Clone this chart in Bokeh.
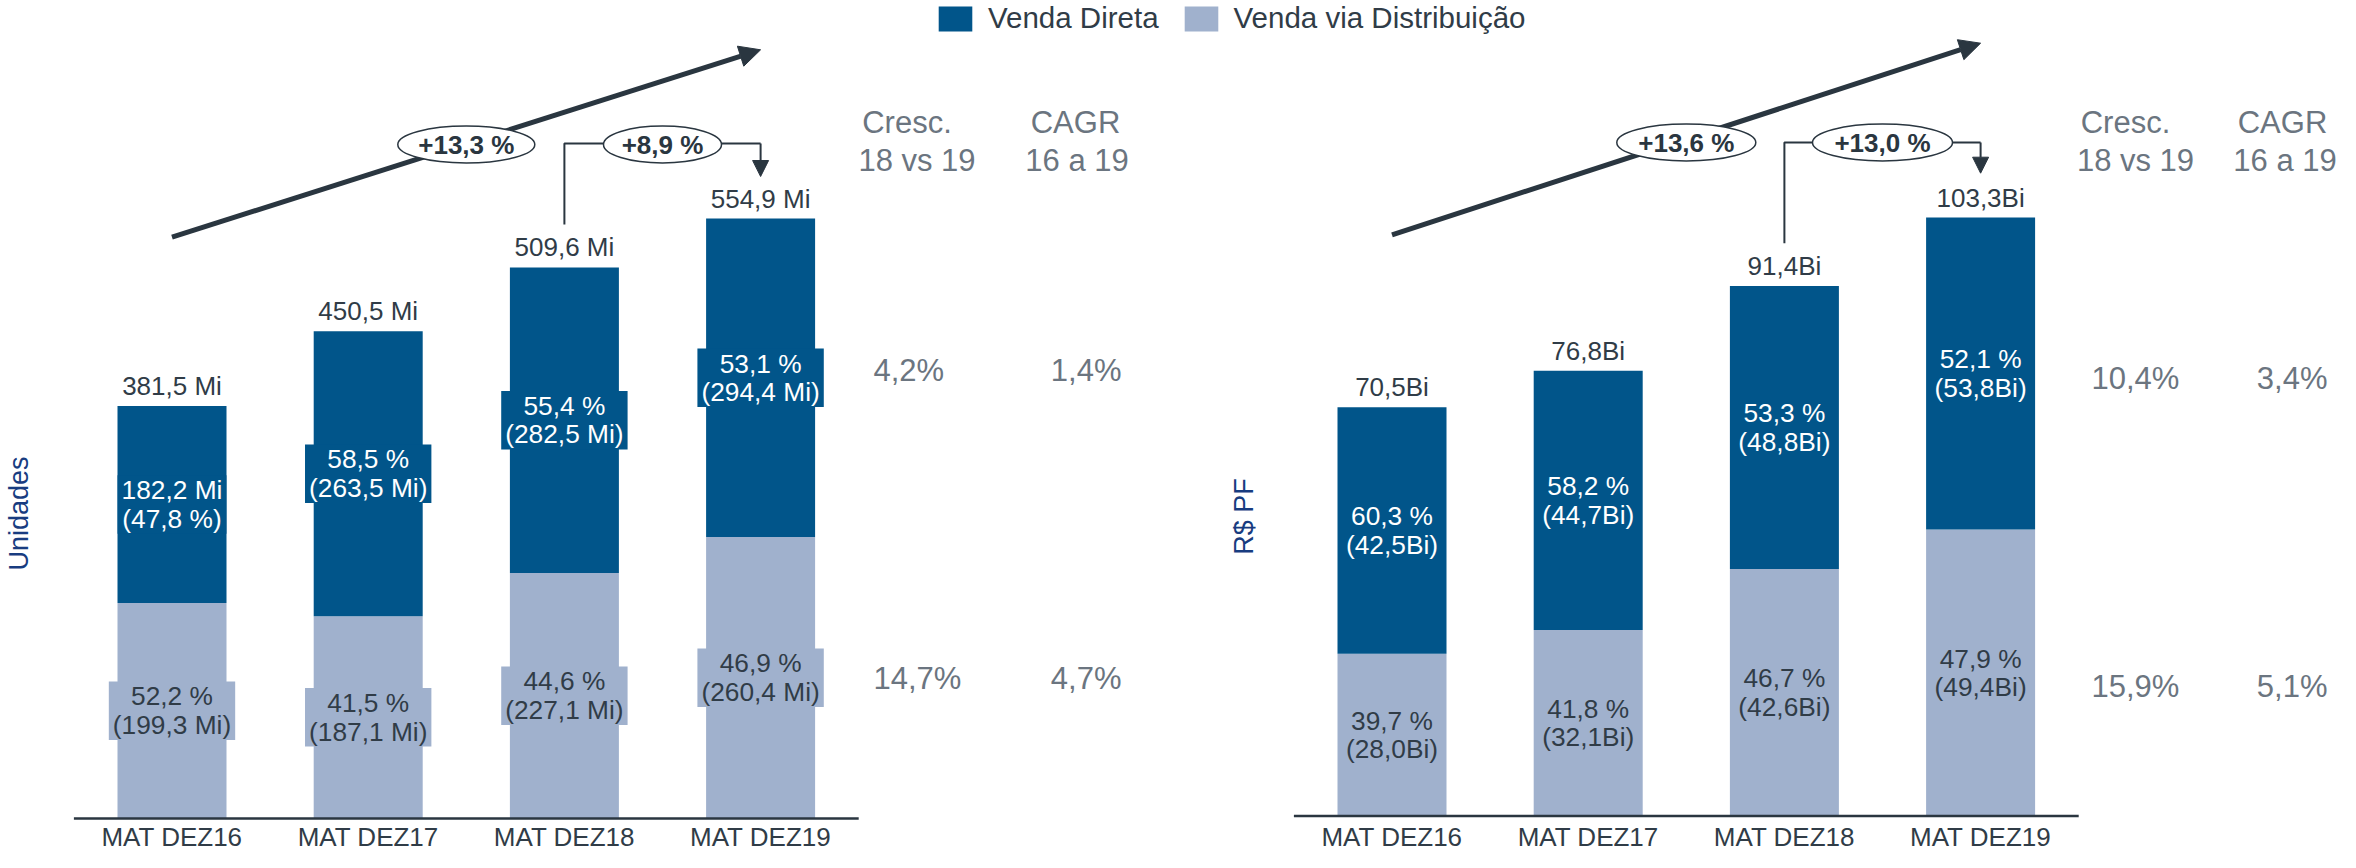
import math
from bokeh.plotting import figure
from bokeh.models import ColumnDataSource, Range1d, Arrow, NormalHead, Legend, LegendItem
from bokeh.core.properties import value
from bokeh.embed import file_html
from bokeh.resources import INLINE

# ---------------- data ----------------
categories = ["MAT DEZ16", "MAT DEZ17", "MAT DEZ18", "MAT DEZ19"]

units_direct = [182.2, 263.5, 282.5, 294.4]
units_dist = [199.3, 187.1, 227.1, 260.4]
units_total_lbl = ["381,5 Mi", "450,5 Mi", "509,6 Mi", "554,9 Mi"]
units_direct_lbl = ["182,2 Mi\n(47,8 %)", "58,5 %\n(263,5 Mi)", "55,4 %\n(282,5 Mi)", "53,1 %\n(294,4 Mi)"]
units_dist_lbl = ["52,2 %\n(199,3 Mi)", "41,5 %\n(187,1 Mi)", "44,6 %\n(227,1 Mi)", "46,9 %\n(260,4 Mi)"]
units_growth = ["+13,3 %", "+8,9 %"]
units_cresc = ["4,2%", "14,7%"]
units_cagr = ["1,4%", "4,7%"]

value_direct = [42.5, 44.7, 48.8, 53.8]
value_dist = [28.0, 32.1, 42.6, 49.4]
value_total_lbl = ["70,5Bi", "76,8Bi", "91,4Bi", "103,3Bi"]
value_direct_lbl = ["60,3 %\n(42,5Bi)", "58,2 %\n(44,7Bi)", "53,3 %\n(48,8Bi)", "52,1 %\n(53,8Bi)"]
value_dist_lbl = ["39,7 %\n(28,0Bi)", "41,8 %\n(32,1Bi)", "46,7 %\n(42,6Bi)", "47,9 %\n(49,4Bi)"]
value_growth = ["+13,6 %", "+13,0 %"]
value_cresc = ["10,4%", "15,9%"]
value_cagr = ["3,4%", "5,1%"]

table_head_1 = ["Cresc.", "CAGR"]
table_head_2 = ["18 vs 19", "16 a 19"]
legend_labels = ["Venda Direta", "Venda via Distribuição"]
y_titles = ["Unidades", "R$ PF"]

# ---------------- style / layout ----------------
FONT_NAME = "Liberation Sans"
FONT = value(FONT_NAME)
DARK = "#01558a"
LIGHT = "#a0b1cd"
TXT = "#303c47"
GRAY = "#6b7580"
NAVY = "#183c80"
AX = "#2a3640"

W, H = 2340, 852
REF_X0, REF_Y0 = 6, 14           # reference pixel at canvas top-left
SP = 196.2                        # px per category step
CX0_L, CX0_R = 177.5, 1397.5      # centre of first bar (px)
R_OFF = (CX0_R - CX0_L) / SP
BASE_L, K_L = 832.0, 1.0813       # baseline px, px per Mi
BASE_R, K_R = 829.6, 5.80         # baseline px, px per Bi
BW = 109 / SP
GAP = 20                          # total label centre above bar top (px)
CAGR_R_SHIFT = -12                # keep right-most column inside the canvas


def dx(px):
    return (px - CX0_L) / SP


def ly(py):
    return (BASE_L - py) / K_L


def ry(py):
    return (BASE_R - py) / K_R


p = figure(width=W, height=H, output_backend="svg", toolbar_location=None,
           x_range=Range1d(dx(REF_X0), dx(REF_X0 + W)),
           y_range=Range1d(ly(REF_Y0 + H), ly(REF_Y0)),
           x_axis_location=None, y_axis_location=None, min_border=0)
p.extra_y_ranges = {"r": Range1d(ry(REF_Y0 + H), ry(REF_Y0))}
p.xgrid.visible = False
p.ygrid.visible = False
p.outline_line_color = None
p.background_fill_color = "white"
p.border_fill_color = "white"

xl = list(range(len(categories)))
xr = [i + R_OFF for i in xl]

# ---------------- left chart (Unidades) ----------------
ltop = [a + b for a, b in zip(units_dist, units_direct)]
src_l = ColumnDataSource(dict(
    x=xl, dist=units_dist, top=ltop,
    mid_dist=[d / 2 for d in units_dist],
    mid_dir=[d + e / 2 for d, e in zip(units_dist, units_direct)],
    tot_y=[t + GAP / K_L for t in ltop],
    lbl_dist=units_dist_lbl, lbl_dir=units_direct_lbl, lbl_tot=units_total_lbl,
))
r_dist = p.vbar(x="x", bottom=0, top="dist", width=BW, fill_color=LIGHT, line_color=None, source=src_l)
r_dir = p.vbar(x="x", bottom="dist", top="top", width=BW, fill_color=DARK, line_color=None, source=src_l)

common = dict(text_font=FONT, text_font_size="26px", text_align="center", text_baseline="middle")
mid = dict(text_font=FONT, text_font_size="26.3px", text_align="center", text_baseline="middle",
           text_line_height=0.95)
p.text(x="x", y="mid_dist", text="lbl_dist", source=src_l, text_color=TXT,
       background_fill_color=LIGHT, padding=(4, 0), **mid)
p.text(x="x", y="mid_dir", text="lbl_dir", source=src_l, text_color="white",
       background_fill_color=DARK, padding=(4, 0), **mid)
p.text(x="x", y="tot_y", text="lbl_tot", source=src_l, text_color=TXT, **common)
p.segment(x0=[-0.5], y0=[0], x1=[3.5], y1=[0], line_width=2.5, line_color=AX)

# ---------------- right chart (R$ PF) ----------------
rtop = [a + b for a, b in zip(value_dist, value_direct)]
src_r = ColumnDataSource(dict(
    x=xr, dist=value_dist, top=rtop,
    mid_dist=[d / 2 for d in value_dist],
    mid_dir=[d + e / 2 for d, e in zip(value_dist, value_direct)],
    tot_y=[t + GAP / K_R for t in rtop],
    lbl_dist=value_dist_lbl, lbl_dir=value_direct_lbl, lbl_tot=value_total_lbl,
))
p.vbar(x="x", bottom=0, top="dist", width=BW, fill_color=LIGHT, line_color=None, source=src_r, y_range_name="r")
p.vbar(x="x", bottom="dist", top="top", width=BW, fill_color=DARK, line_color=None, source=src_r, y_range_name="r")
p.text(x="x", y="mid_dist", text="lbl_dist", source=src_r, text_color=TXT, y_range_name="r", **mid)
p.text(x="x", y="mid_dir", text="lbl_dir", source=src_r, text_color="white", y_range_name="r", **mid)
p.text(x="x", y="tot_y", text="lbl_tot", source=src_r, text_color=TXT, y_range_name="r", **common)
p.segment(x0=[R_OFF - 0.5], y0=[0], x1=[R_OFF + 3.5], y1=[0], line_width=2.5, line_color=AX, y_range_name="r")

# ---------------- category labels ----------------
p.text(x=xl + xr, y=[ly(850)] * 8, text=categories + categories, text_color=TXT, **common)

# ---------------- y titles ----------------
p.text(x=[dx(24), dx(1249)], y=[ly(527), ly(530)], text=y_titles, angle=math.pi / 2,
       text_font=FONT, text_font_size="27px", text_color=NAVY, text_align="center", text_baseline="middle")

# ---------------- growth arrows ----------------
for off, y0, y1, by0, byh, bytip, ey, growth, ew in [
        (0.0, 250.7, 63.3, 238, 157, 190, 158, units_growth, [137, 118]),
        (R_OFF, 248.3, 56.7, 256.7, 156, 186.7, 156, value_growth, [139, 140])]:
    p.add_layout(Arrow(end=NormalHead(size=21, fill_color=AX, line_color=AX, line_width=1),
                       x_start=off + 0, y_start=ly(y0), x_end=off + 3, y_end=ly(y1),
                       line_width=5, line_color=AX, level="underlay"))
    p.line(x=[off + 2, off + 2, off + 3], y=[ly(by0), ly(byh), ly(byh)], line_width=2, line_color=AX)
    p.add_layout(Arrow(end=NormalHead(size=16, fill_color=AX, line_color=AX, line_width=1),
                       x_start=off + 3, y_start=ly(byh), x_end=off + 3, y_end=ly(bytip),
                       line_width=2, line_color=AX, level="underlay"))
    p.ellipse(x=[off + 1.5, off + 2.5], y=[ly(ey)] * 2, width=[w / SP for w in ew], height=37 / K_L,
              fill_color="white", line_color=AX, line_width=1.5)
    p.text(x=[off + 1.5, off + 2.5], y=[ly(ey)] * 2, text=growth, text_font=FONT, text_font_size="26px",
           text_font_style="bold", text_color=AX, text_align="center", text_baseline="middle")

# ---------------- growth table ----------------
S = CAGR_R_SHIFT
tab = dict(text_font=FONT, text_font_size="31px", text_color=GRAY, text_baseline="middle")
p.text(x=[dx(912.5), dx(1081), dx(2131), dx(2300 + S)], y=[ly(135.5)] * 4,
       text=table_head_1 * 2, text_align="center", **tab)
p.text(x=[dx(922.5), dx(1082.5), dx(2141), dx(2302.5 + S)], y=[ly(174)] * 4,
       text=table_head_2 * 2, text_align="center", **tab)
p.text(x=[dx(879)] * 2 + [dx(2097)] * 2, y=[ly(384), ly(692), ly(392), ly(700)],
       text=units_cresc + value_cresc, text_align="left", **tab)
p.text(x=[dx(1127)] * 2 + [dx(2345 + S)] * 2, y=[ly(384), ly(692), ly(392), ly(700)],
       text=units_cagr + value_cagr, text_align="right", **tab)

# ---------------- legend ----------------
legend = Legend(items=[LegendItem(label=legend_labels[0], renderers=[r_dir]),
                       LegendItem(label=legend_labels[1], renderers=[r_dist])],
                orientation="horizontal", location=(940 - REF_X0, H - 35),
                glyph_width=42, glyph_height=31, label_standoff=12, spacing=21,
                padding=0, margin=0, border_line_color=None, background_fill_alpha=0,
                label_text_font=FONT_NAME, label_text_font_size="29.5px", label_text_color=TXT,
                label_height=31)
p.add_layout(legend, "center")

open("out.html", "w").write(file_html(p, INLINE))
